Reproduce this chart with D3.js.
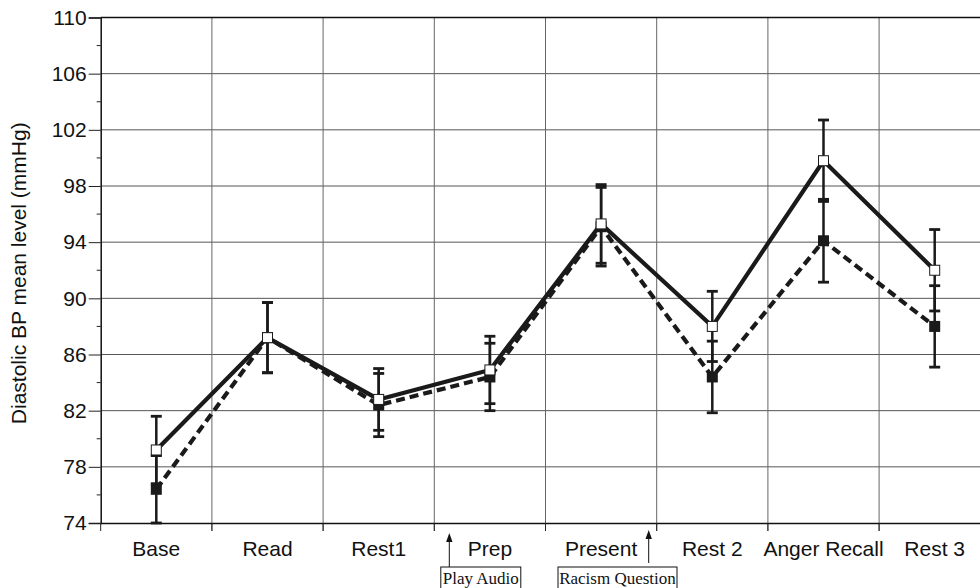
<!DOCTYPE html>
<html>
<head>
<meta charset="utf-8">
<script src="https://cdn.jsdelivr.net/npm/d3@7"></script>
<style>
  html, body { margin: 0; padding: 0; background: #fff; }
  svg { display: block; }
</style>
</head>
<body>
<svg id="chart" width="980" height="588"></svg>
<script>
const categories = ["Base", "Read", "Rest1", "Prep", "Present", "Rest 2", "Anger Recall", "Rest 3"];
const openMeans   = [79.2, 87.2, 82.8, 84.9, 95.3, 88.0, 99.8, 92.0];
const openErr     = [2.4, 2.5, 2.2, 2.4, 2.8, 2.5, 2.9, 2.9];
const filledMeans = [76.4, 87.2, 82.4, 84.4, 95.1, 84.4, 94.1, 88.0];
const filledErr   = [2.4, 2.5, 2.25, 2.4, 2.8, 2.55, 2.95, 2.9];
const yTicks = [74, 78, 82, 86, 90, 94, 98, 102, 106, 110];
const yMinorTicks = [76, 80, 84, 88, 92, 96, 100, 104, 108];
const yLabel = "Diastolic BP mean level (mmHg)";
const annotations = ["Play Audio", "Racism Question"];

(function () {
const svg = d3.select("#chart");
const L = 100.7, T = 17.5, plotW = 889.6, plotH = 505.5;
const x = d3.scaleBand().domain(categories).range([L, L + plotW]).padding(0);
const y = d3.scaleLinear().domain([74, 110]).range([T + plotH, T]);
const cx = c => x(c) + x.bandwidth() / 2;
const sans = "'Liberation Sans', Arial, Helvetica, sans-serif";
const serif = "'Liberation Serif', 'Times New Roman', serif";
const FS = 21;

// horizontal gridlines
svg.append("g").selectAll("line").data(yTicks.filter(t => t !== 74 && t !== 110)).join("line")
  .attr("x1", L).attr("x2", 980).attr("y1", d => y(d)).attr("y2", d => y(d))
  .attr("stroke", "#555").attr("stroke-width", 1);
// vertical gridlines at category boundaries
svg.append("g").selectAll("line").data(categories.slice(1)).join("line")
  .attr("x1", d => x(d)).attr("x2", d => x(d)).attr("y1", T).attr("y2", T + plotH + 8)
  .attr("stroke", "#666").attr("stroke-width", 1);
// top border
svg.append("line").attr("x1", L).attr("x2", 980).attr("y1", y(110)).attr("y2", y(110))
  .attr("stroke", "#111").attr("stroke-width", 1.5);

// Y axis
const yAxis = svg.append("g").attr("transform", `translate(${L},0)`)
  .call(d3.axisLeft(y).tickValues(yTicks).tickSize(12).tickPadding(2).tickFormat(d3.format("d")));
yAxis.select(".domain").attr("stroke", "#111").attr("stroke-width", 1.5);
yAxis.selectAll(".tick line").attr("stroke", "#222").attr("stroke-width", 1);
yAxis.selectAll("text").attr("font-family", sans).attr("font-size", FS).attr("fill", "#111");
svg.append("g").selectAll("line").data(yMinorTicks).join("line")
  .attr("x1", L - 4).attr("x2", L).attr("y1", d => y(d)).attr("y2", d => y(d))
  .attr("stroke", "#222").attr("stroke-width", 1);

// X axis
const xAxis = svg.append("g").attr("transform", `translate(0,${T + plotH})`)
  .call(d3.axisBottom(x).tickSize(0).tickPadding(18));
xAxis.select(".domain").attr("stroke", "#111").attr("stroke-width", 1.5);
xAxis.selectAll("text").attr("font-family", sans).attr("font-size", FS).attr("fill", "#111");
svg.append("g").selectAll("line").data(categories).join("line")
  .attr("x1", d => x(d)).attr("x2", d => x(d)).attr("y1", T + plotH).attr("y2", T + plotH + 8)
  .attr("stroke", "#222").attr("stroke-width", 1);

// Y label
svg.append("text").attr("transform", `translate(26,${T + plotH / 2 + 3}) rotate(-90)`)
  .attr("text-anchor", "middle").attr("font-family", sans).attr("font-size", FS).attr("fill", "#111")
  .text(yLabel);

// error bars
function errorBars(means, errs) {
  const g = svg.append("g");
  categories.forEach((c, i) => {
    const lo = Math.max(74, means[i] - errs[i]), hi = means[i] + errs[i];
    g.append("line").attr("x1", cx(c)).attr("x2", cx(c)).attr("y1", y(lo)).attr("y2", y(hi))
      .attr("stroke", "#1a1a1a").attr("stroke-width", 2.5);
    [lo, hi].forEach(v => g.append("line").attr("x1", cx(c) - 5.5).attr("x2", cx(c) + 5.5)
      .attr("y1", y(v)).attr("y2", y(v)).attr("stroke", "#1a1a1a").attr("stroke-width", 2.8));
  });
}
errorBars(openMeans, openErr);
errorBars(filledMeans, filledErr);

const line = d3.line().x((d, i) => cx(categories[i])).y(d => y(d));
svg.append("path").datum(filledMeans).attr("d", line).attr("fill", "none")
  .attr("stroke", "#1a1a1a").attr("stroke-width", 4.2).attr("stroke-dasharray", "9,5");
svg.append("path").datum(openMeans).attr("d", line).attr("fill", "none")
  .attr("stroke", "#1a1a1a").attr("stroke-width", 4.2);

// markers
svg.append("g").selectAll("rect").data(filledMeans).join("rect")
  .attr("x", (d, i) => cx(categories[i]) - 5.5).attr("y", d => y(d) - 5.5)
  .attr("width", 11).attr("height", 11).attr("fill", "#1a1a1a");
svg.append("g").selectAll("rect").data(openMeans).join("rect")
  .attr("x", (d, i) => cx(categories[i]) - 5).attr("y", d => y(d) - 5)
  .attr("width", 10).attr("height", 10).attr("fill", "#fff").attr("stroke", "#1a1a1a").attr("stroke-width", 1);

// annotations
const ann = [
  { text: annotations[0], arrowX: x("Prep") + 15, tipY: 533, baseY: 567, boxX: x("Prep") + 6.5, boxW: 80 },
  { text: annotations[1], arrowX: x("Rest 2") - 8, tipY: 530, baseY: 563, boxX: x("Present") + 12.5, boxW: 119 }
];
ann.forEach(a => {
  svg.append("line").attr("x1", a.arrowX).attr("x2", a.arrowX).attr("y1", a.baseY).attr("y2", a.tipY + 6)
    .attr("stroke", "#111").attr("stroke-width", 1);
  svg.append("path")
    .attr("d", `M${a.arrowX},${a.tipY} L${a.arrowX + 3.2},${a.tipY + 9} L${a.arrowX - 3.2},${a.tipY + 9} Z`)
    .attr("fill", "#111");
  svg.append("rect").attr("x", a.boxX).attr("y", 567).attr("width", a.boxW).attr("height", 28)
    .attr("fill", "none").attr("stroke", "#111").attr("stroke-width", 1);
  svg.append("text").attr("x", a.boxX + a.boxW / 2).attr("y", 584).attr("text-anchor", "middle")
    .attr("font-family", serif).attr("font-size", 17).attr("fill", "#111").text(a.text);
});
})();
</script>
</body>
</html>
